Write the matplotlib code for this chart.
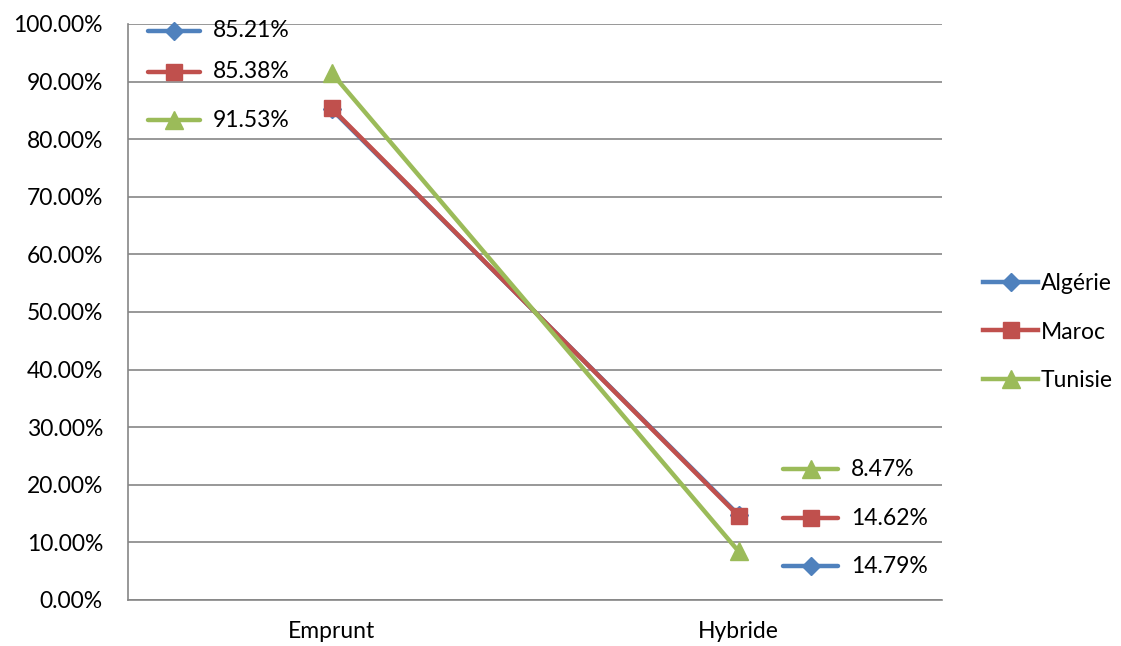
import matplotlib
matplotlib.use("Agg")
import matplotlib.pyplot as plt
from matplotlib.lines import Line2D
from matplotlib.ticker import FuncFormatter, MultipleLocator

plt.rcParams['font.family'] = ['Lato', 'DejaVu Sans']

categories = ["Emprunt", "Hybride"]
series_names = ["Algérie", "Maroc", "Tunisie"]
algerie = [85.21, 14.79]
maroc = [85.38, 14.62]
tunisie = [91.53, 8.47]
values = [algerie, maroc, tunisie]

colors = ["#4F81BD", "#C0504D", "#9BBB59"]
markers = ["D", "s", "^"]
msizes = [9, 12, 13]
FS = 16.5

fig = plt.figure(figsize=(11.21, 6.46), dpi=100)
ax = fig.add_axes([128/1121, 46/646, 814/1121, 576/646])

x = [0, 1]
for vals, c, m, ms in zip(values, colors, markers, msizes):
    ax.plot(x, vals, color=c, lw=3.2, marker=m, ms=ms, mec=c, mfc=c,
            solid_capstyle='round', zorder=3, clip_on=False)

ax.set_xlim(-0.5, 1.5)
ax.set_ylim(0, 100)
ax.yaxis.set_major_locator(MultipleLocator(10))
ax.yaxis.set_major_formatter(FuncFormatter(lambda v, p: f"{v:.2f}%"))
ax.set_xticks(x)
ax.set_xticklabels(categories)
ax.tick_params(axis='both', length=0, labelsize=FS, colors='black')
ax.tick_params(axis='y', pad=18)
ax.tick_params(axis='x', pad=15)
ax.grid(axis='y', color='#868686', lw=1.2)
ax.set_axisbelow(True)
for s in ['top', 'right']:
    ax.spines[s].set_visible(False)
for s in ['left', 'bottom']:
    ax.spines[s].set_color('#868686')
    ax.spines[s].set_linewidth(1.2)


def label_key(x0, x1, y, tx, idx, text):
    ax.add_line(Line2D([x0, (x0 + x1) / 2, x1], [y, y, y], transform=ax.transAxes,
                       color=colors[idx], lw=3.2, marker=markers[idx], ms=msizes[idx],
                       markevery=[1], mec=colors[idx], mfc=colors[idx],
                       solid_capstyle='round', clip_on=False, zorder=4))
    ax.text(tx, y, text, transform=ax.transAxes, fontsize=FS, va='center',
            ha='left', zorder=5)


# value labels at Emprunt, stacked top to bottom
for idx, y in zip([0, 1, 2], [0.988, 0.917, 0.833]):
    label_key(0.0246, 0.0885, y, 0.1044, idx, f"{values[idx][0]:.2f}%")

# value labels at Hybride
for idx, y in zip([2, 1, 0], [0.2274, 0.142, 0.059]):
    label_key(0.805, 0.872, y, 0.888, idx, f"{values[idx][1]:.2f}%")

handles = [Line2D([0], [0], color=c, lw=3.2, marker=m, ms=ms, mec=c, mfc=c)
           for c, m, ms in zip(colors, markers, msizes)]
fig.legend(handles, series_names, loc='center left',
           bbox_to_anchor=(974/1121, 1 - 332/646), frameon=False,
           fontsize=FS, handlelength=2.4, handletextpad=0.1,
           labelspacing=1.2, borderaxespad=0)

fig.savefig("out.png", dpi=100)
